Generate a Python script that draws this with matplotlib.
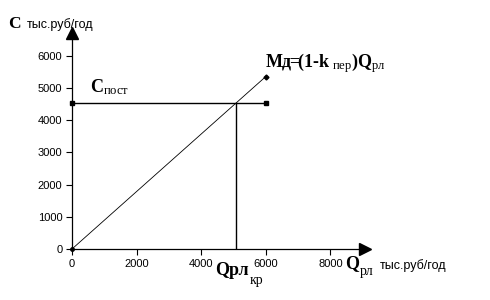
import matplotlib
matplotlib.use("Agg")
import matplotlib.pyplot as plt

plt.rcParams["mathtext.fontset"] = "custom"
plt.rcParams["mathtext.rm"] = "Liberation Serif"
plt.rcParams["mathtext.bf"] = "Liberation Serif:bold"
plt.rcParams["mathtext.it"] = "Liberation Serif:italic"

# данные
q_const = [0, 6000]          # Q, тыс.руб/год
c_const = [4530, 4530]       # постоянные затраты
q_md = [0, 6000]
md = [0, 5350]               # маржинальный доход
q_kr = 5080                  # критический объём
c_kr = 4530

x_ticks = [0, 2000, 4000, 6000, 8000]
y_ticks = [0, 1000, 2000, 3000, 4000, 5000, 6000]

fig = plt.figure(figsize=(4.9, 3.0), dpi=100)
ax = fig.add_axes([72 / 490, 51 / 300, 293 / 490, 216 / 300])
ax.set_xlim(0, 9070)
ax.set_ylim(0, 6700)

for s in ["top", "right"]:
    ax.spines[s].set_visible(False)
for s in ["left", "bottom"]:
    ax.spines[s].set_linewidth(0.9)

ax.set_xticks(x_ticks)
ax.set_yticks(y_ticks)
ax.tick_params(direction="out", length=4, width=0.8, labelsize=8, pad=3)
for lab in ax.get_xticklabels() + ax.get_yticklabels():
    lab.set_family("Liberation Sans")

# стрелки осей
ax.plot(1, 0, marker=">", ms=8, color="black", transform=ax.transAxes, clip_on=False)
ax.plot(0, 1, marker="^", ms=8, color="black", transform=ax.transAxes, clip_on=False)

ax.plot(q_const, c_const, color="black", lw=1.0, marker="s", ms=3.5, clip_on=False)
ax.plot(q_md, md, color="black", lw=0.6, clip_on=False)
ax.plot(q_md[-1], md[-1], marker="D", ms=2.5, color="black", clip_on=False)
ax.plot(q_md[0], md[0], marker="o", ms=2.5, color="black", clip_on=False)
ax.plot([q_kr, q_kr], [0, c_kr], color="black", lw=1.0)

serif = "Liberation Serif"
sans = "Liberation Sans"

ax.text(-1980, 6860, "C", family=serif, weight="bold", fontsize=12.5, clip_on=False)
ax.text(-1390, 6860, "тыс.руб/год", family=sans, fontsize=9, clip_on=False)

ax.text(557, 4876, r"$\mathbf{C}_{\mathrm{пост}}$", fontsize=13)
ax.text(5975, 5650, r"$\mathbf{Мд\!\!=\!\!(1‐k}_{\ \mathrm{пер}}\mathbf{)Q}_{\mathrm{рл}}$",
        fontsize=13)

# подпись критического объёма
ax.text(4427, -806, "Qрл", family=serif, weight="bold", fontsize=13,
        va="baseline", clip_on=False)
ax.text(5511, -1086, "кр", family=serif, fontsize=10, va="baseline", clip_on=False)

# подпись оси X
ax.text(8452, -589, "Q", family=serif, weight="bold", fontsize=13,
        va="baseline", clip_on=False)
ax.text(8916, -806, "рл", family=serif, fontsize=10, va="baseline", clip_on=False)
ax.text(9536, -620, "тыс.руб/год", family=sans, fontsize=9, va="baseline", clip_on=False)

fig.savefig("out.png", dpi=100)
